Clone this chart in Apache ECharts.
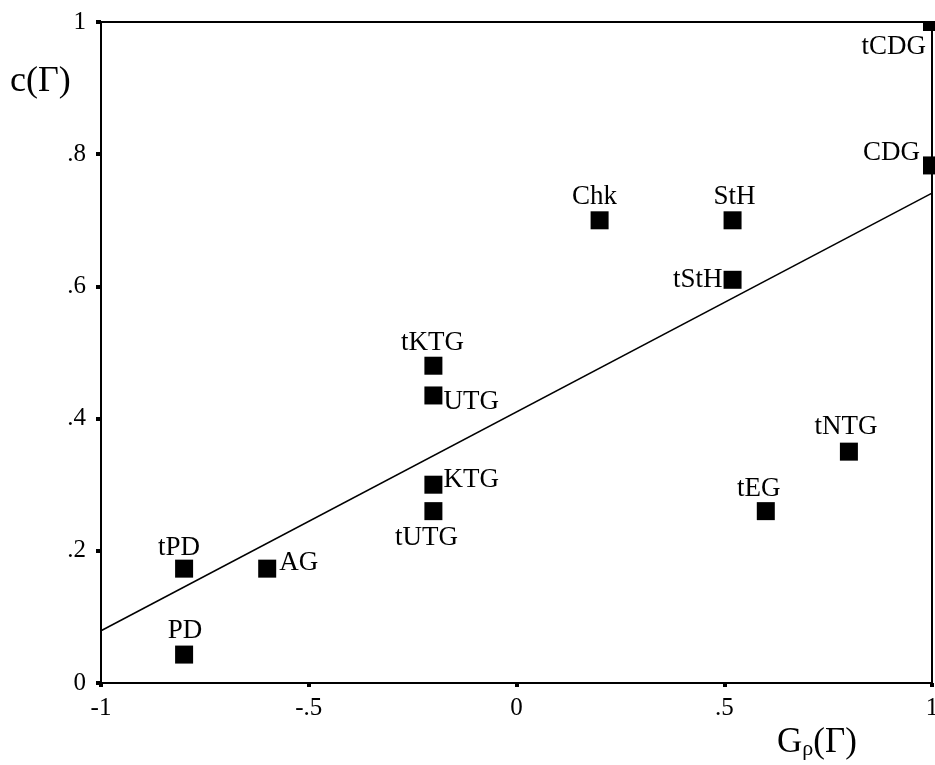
<!DOCTYPE html>
<html>
<head>
<meta charset="utf-8">
<script src="https://cdn.jsdelivr.net/npm/echarts@6/dist/echarts.min.js"></script>
<style>
html,body{margin:0;padding:0;background:#fff;overflow:hidden;width:935px;height:765px;}
#chart{width:935px;height:765px;position:absolute;left:0;top:0;}
</style>
</head>
<body>
<div id="chart"></div>
<script>
// ---- data ----
const categories = ['tCDG','CDG','Chk','StH','tStH','tKTG','UTG','KTG','tUTG','tNTG','tEG','tPD','AG','PD'];
const xValues = [1, 1, 0.2, 0.52, 0.52, -0.2, -0.2, -0.2, -0.2, 0.8, 0.6, -0.8, -0.6, -0.8];
const yValues = [1, 0.783, 0.7, 0.7, 0.61, 0.48, 0.435, 0.30, 0.26, 0.35, 0.26, 0.173, 0.173, 0.043];
const fitX = [-1, 1];
const fitY = [0.079, 0.741];
const xTickLabels = ['-1', '-.5', '0', '.5', '1'];
const yTickLabels = ['0', '.2', '.4', '.6', '.8', '1'];

// ---- label placement (style) ----
const labelPlacement = {
  tCDG: {position: 'left', distance: -3, offset: [0, 25]},
  CDG:  {position: 'left', distance: 3, offset: [0, -13]},
  Chk:  {position: 'top', distance: 1, offset: [-5, 0]},
  StH:  {position: 'top', distance: 1, offset: [2, 0]},
  tStH: {position: 'left', distance: 1, offset: [0, 0]},
  tKTG: {position: 'top', distance: 0, offset: [-1, 0]},
  UTG:  {position: 'right', distance: 1, offset: [0, 6]},
  KTG:  {position: 'right', distance: 1, offset: [0, -5]},
  tUTG: {position: 'bottom', distance: 4, offset: [-7, 0]},
  tNTG: {position: 'top', distance: 2, offset: [-3, 0]},
  tEG:  {position: 'top', distance: 0, offset: [-7, 0]},
  tPD:  {position: 'top', distance: -2, offset: [-5, 0]},
  AG:   {position: 'right', distance: 3, offset: [0, -6]},
  PD:   {position: 'top', distance: 1, offset: [1, 0]}
};

const serif = '"Liberation Serif", "Times New Roman", serif';

const scatterData = categories.map((name, i) => ({
  name: name,
  value: [xValues[i], yValues[i]],
  label: Object.assign({show: true, formatter: name}, labelPlacement[name])
}));
const fitData = fitX.map((x, i) => [x, fitY[i]]);

const chart = echarts.init(document.getElementById('chart'), null, {renderer: 'canvas', width: 935, height: 765});
chart.setOption({
  animation: false,
  backgroundColor: '#fff',
  grid: {
    left: 101, top: 22, right: 3, bottom: 82,
    outerBoundsMode: 'none',
    containLabel: false,
    show: true, borderColor: '#000', borderWidth: 2, backgroundColor: 'transparent'
  },
  xAxis: {
    type: 'value', min: -1, max: 1, interval: 0.5,
    axisLine: {show: true, onZero: false, lineStyle: {color: '#000', width: 2}},
    axisTick: {show: true, inside: false, length: 4, lineStyle: {color: '#000', width: 4}},
    splitLine: {show: false},
    axisLabel: {
      margin: 13, color: '#000', fontFamily: serif, fontSize: 25,
      formatter: v => xTickLabels[Math.round((v + 1) / 0.5)]
    }
  },
  yAxis: {
    type: 'value', min: 0, max: 1, interval: 0.2,
    axisLine: {show: true, onZero: false, lineStyle: {color: '#000', width: 2}},
    axisTick: {show: true, inside: false, length: 5, lineStyle: {color: '#000', width: 4}},
    splitLine: {show: false},
    axisLabel: {
      margin: 15, color: '#000', fontFamily: serif, fontSize: 25,
      formatter: v => yTickLabels[Math.round(v / 0.2)]
    }
  },
  series: [
    {
      type: 'line',
      data: fitData,
      symbol: 'none',
      lineStyle: {color: '#000', width: 1.5},
      z: 2
    },
    {
      type: 'scatter',
      data: scatterData,
      symbol: 'rect',
      symbolSize: 18,
      clip: false,
      itemStyle: {color: '#000', opacity: 1},
      label: {color: '#000', fontFamily: serif, fontSize: 27},
      z: 3
    }
  ],
  graphic: [
    {
      type: 'rect', z: 100,
      shape: {x: 101, y: 0, width: 834, height: 21},
      style: {fill: '#fff'}
    },
    {
      type: 'text', z: 101, left: 10, top: 64,
      style: {text: 'c(Γ)', font: '36px ' + serif, fill: '#000'}
    },
    {
      type: 'text', z: 101, left: 777, top: 725,
      style: {
        text: '{g|G}{s|ρ}{g|(Γ)}',
        fill: '#000',
        rich: {
          g: {fontFamily: serif, fontSize: 35, lineHeight: 36, fill: '#000'},
          s: {fontFamily: serif, fontSize: 22, lineHeight: 24, verticalAlign: 'bottom', fill: '#000'}
        }
      }
    }
  ]
});
</script>
</body>
</html>
